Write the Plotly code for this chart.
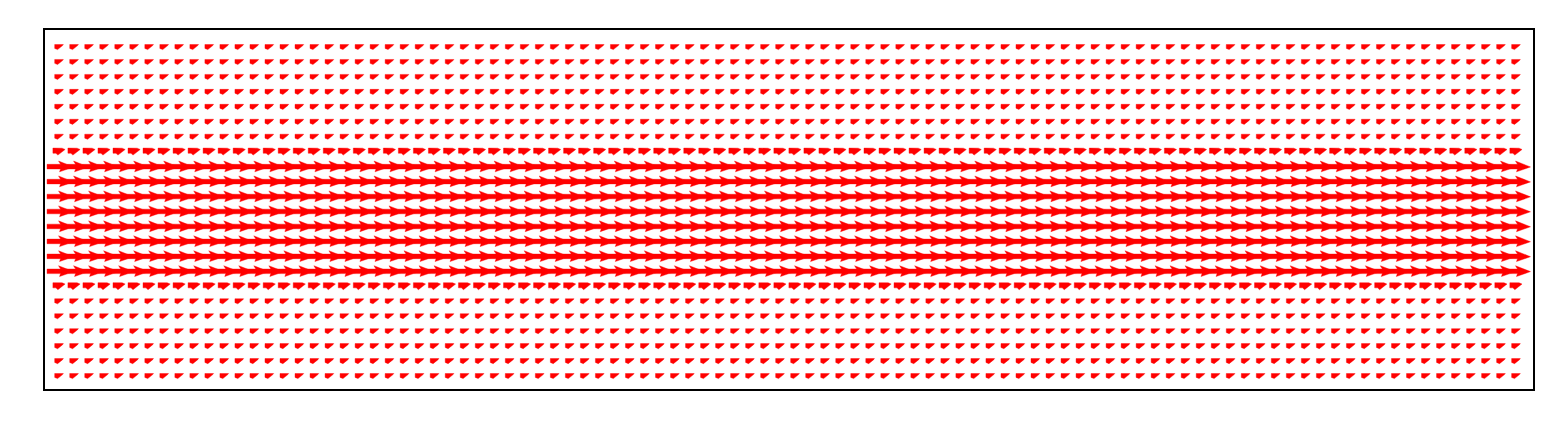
import numpy as np
import plotly.graph_objects as go

# ---- data -------------------------------------------------------------
n_cols = 98
x_positions = np.arange(n_cols)            # grid columns (data units)
y_positions = list(range(22, -1, -1))      # 23 grid rows, top -> bottom
# horizontal velocity u of each row (top -> bottom); v = 0 everywhere
u_rows = [0.02, 0.02, 0.02, 0.02, 0.02, 0.02, 0.02,
          0.46,
          1.0, 1.0, 1.0, 1.0, 1.0, 1.0, 1.0, 1.0,
          0.46,
          0.02, 0.02, 0.02, 0.02, 0.02, 0.02]
v_rows = [0.0] * 23

# ---- figure geometry ---------------------------------------------------
W, H = 1562, 435
OFF = 8  # page body margin offset
L, R, T, B = 45 - OFF, W - 1533 + OFF, 30 - OFF, H - 389 + OFF
px_x = 15.02   # pixels per x data unit
px_y = 14.95   # pixels per y data unit
scale_px = 26.5  # pixels of arrow length for u = 1


def arrow_poly(cx, cy, u):
    """polygon (in data units) of an arrow centred on (cx, cy), pointing +x"""
    length = u * scale_px
    shift = 0.0
    if length < 5:
        # tiny arrow: flag shape (pixels, x right, y down)
        pts = [(-4.3, -2.5), (4.4, -2.5), (3.6, -1.4), (-1.4, 2.6), (-4.3, 1.4)]
    elif length < 20:
        h = length
        pts = [(-h / 2, -3.6), (h / 2 - 3.0, -3.5), (h / 2, -2.2),
               (-h / 2 + 5.0, 3.4), (-h / 2 + 3.0, 1.6), (-h / 2, 1.6)]
    else:
        h = length
        shift = 1.3
        sw = 2.3   # shaft half width
        hw = 5.6   # head half width
        hl = 15.0  # head length
        ha = 13.0  # head axis length
        pts = [(-h / 2, -sw), (h / 2 - ha, -sw), (h / 2 - hl, -hw),
               (h / 2, 0.3), (h / 2 - hl + 1, hw - 0.4), (h / 2 - ha, sw),
               (-h / 2, sw)]
    pts = [(p[0] + shift, p[1]) for p in pts]
    xs = [cx + p[0] / px_x for p in pts] + [cx + pts[0][0] / px_x, None]
    ys = [cy - p[1] / px_y for p in pts] + [cy - pts[0][1] / px_y, None]
    return xs, ys


fig = go.Figure()
for yv, u, v in zip(y_positions, u_rows, v_rows):
    X, Y = [], []
    for xv in x_positions:
        xs, ys = arrow_poly(float(xv), float(yv), u)
        X += xs
        Y += ys
    fig.add_trace(go.Scatter(
        x=X, y=Y, mode="lines", fill="toself",
        fillcolor="#ff0000", line=dict(color="#ff0000", width=0.4),
        hoverinfo="skip", showlegend=False))

x0 = -(59 - 45) / px_x
x1 = (1533 - 59) / px_x
y1 = 22 + (47 - 30) / px_y
y0 = -(389 - 376) / px_y

axis_common = dict(showgrid=False, zeroline=False, showticklabels=False,
                   ticks="", showline=True, mirror=True,
                   linecolor="black", linewidth=1.6)
fig.update_layout(
    width=W, height=H,
    margin=dict(l=L, r=R, t=T, b=B, pad=0),
    paper_bgcolor="white", plot_bgcolor="white",
    xaxis=dict(range=[x0, x1], **axis_common),
    yaxis=dict(range=[y0, y1], **axis_common),
)

fig.write_html("out.html")
